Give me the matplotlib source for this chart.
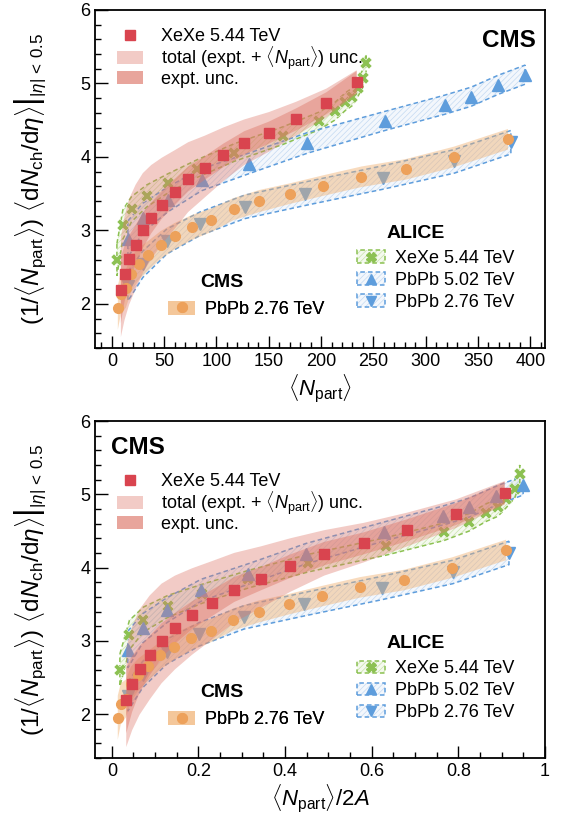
import numpy as np
import matplotlib
matplotlib.use('Agg')
import matplotlib.pyplot as plt
from matplotlib.patches import Patch
from matplotlib.lines import Line2D
from matplotlib.ticker import MultipleLocator, FuncFormatter

plt.rcParams['font.family'] = ['Liberation Sans', 'DejaVu Sans']
plt.rcParams['mathtext.fontset'] = 'custom'
plt.rcParams['mathtext.rm'] = 'Liberation Sans'
plt.rcParams['mathtext.it'] = 'Liberation Sans:italic'
plt.rcParams['mathtext.bf'] = 'Liberation Sans:bold'
plt.rcParams['hatch.linewidth'] = 0.5

# mass numbers for the Npart/2A panel
A_XE = 129
A_PB = 208

# CMS XeXe 5.44 TeV
cms_xe_npart = [8.6, 12.1, 16.5, 22.6, 29.6, 37.6, 47.8, 59.9, 72.9, 88.9, 106.4, 126.5, 150, 176, 205, 234]
cms_xe_y = [2.19, 2.41, 2.61, 2.80, 3.00, 3.17, 3.35, 3.52, 3.70, 3.85, 4.02, 4.19, 4.33, 4.51, 4.73, 5.02]
cms_xe_tot_up = [0.72, 0.78, 0.82, 0.82, 0.78, 0.72, 0.64, 0.57, 0.50, 0.44, 0.38, 0.32, 0.28, 0.24, 0.20, 0.16]
cms_xe_tot_dn = [0.64, 0.63, 0.62, 0.60, 0.58, 0.56, 0.54, 0.50, 0.45, 0.40, 0.35, 0.30, 0.26, 0.22, 0.19, 0.16]
cms_xe_exp = [0.45, 0.38, 0.32, 0.27, 0.24, 0.21, 0.19, 0.18, 0.17, 0.16, 0.16, 0.16, 0.15, 0.15, 0.15, 0.15]

# CMS PbPb 2.76 TeV
cms_pb_npart = [5.7, 8.6, 13.4, 18.5, 25.5, 35, 46.5, 59.9, 76.5, 95.2, 116.3, 141, 170, 202, 238.6, 280.7, 327, 378.6]
cms_pb_y = [1.95, 2.14, 2.21, 2.41, 2.54, 2.66, 2.80, 2.92, 3.04, 3.14, 3.29, 3.40, 3.50, 3.61, 3.73, 3.83, 4.00, 4.24]
cms_pb_err = [0.30, 0.28, 0.26, 0.24, 0.22, 0.20, 0.19, 0.18, 0.17, 0.16, 0.15, 0.15, 0.14, 0.14, 0.14, 0.14, 0.14, 0.14]

# ALICE XeXe 5.44 TeV
al_xe_npart = [4.8, 10.5, 18.8, 33.4, 53.5, 81.2, 117, 163.5, 198, 213, 223, 230, 235, 240, 243]
al_xe_y = [2.60, 3.08, 3.29, 3.47, 3.64, 3.84, 4.06, 4.29, 4.49, 4.62, 4.75, 4.82, 4.94, 5.07, 5.28]
al_xe_err = [0.22, 0.20, 0.17, 0.15, 0.13, 0.12, 0.12, 0.12, 0.12, 0.12, 0.12, 0.12, 0.12, 0.12, 0.12]

# ALICE PbPb 5.02 TeV
al_pb5_npart = [15.3, 29.6, 53.2, 85.7, 130.6, 186.7, 261, 318, 343.5, 369, 395]
al_pb5_y = [2.88, 3.17, 3.42, 3.69, 3.91, 4.19, 4.49, 4.71, 4.82, 4.98, 5.12]
al_pb5_err = [0.25, 0.20, 0.17, 0.15, 0.14, 0.14, 0.13, 0.13, 0.13, 0.13, 0.13]

# ALICE PbPb 2.76 TeV
al_pb2_npart = [15.3, 29.6, 52.6, 84.1, 126.8, 185, 259, 327.5, 381.4]
al_pb2_y = [2.24, 2.54, 2.85, 3.09, 3.32, 3.50, 3.72, 3.94, 4.20]
al_pb2_err = [0.20, 0.18, 0.17, 0.16, 0.16, 0.16, 0.16, 0.16, 0.16]

RED = '#d9444f'
RED_BAND = (0.87, 0.47, 0.41)
ORANGE = '#eda15b'
ORANGE_BAND = '#f0b070'
GREEN = '#8cc152'
GREEN_HATCH = '#c8e3aa'
BLUE = '#5e9ddc'
BLUE_HATCH = '#c4daf2'

YLABEL = r'$(1/\langle N_{\rm part}\rangle)\ \left.\langle{\rm d}N_{\rm ch}/{\rm d}\eta\rangle\right|_{|\eta|\,<\,0.5}$'


def band(ax, x, y, eu, ed=None, **kw):
    x = np.asarray(x); y = np.asarray(y); eu = np.asarray(eu)
    ed = eu if ed is None else np.asarray(ed)
    xs = np.concatenate([x, x[::-1]])
    ys = np.concatenate([y + eu, (y - ed)[::-1]])
    return ax.fill(xs, ys, **kw)


def alice_band(ax, x, y, e, col, hcol):
    band(ax, x, y, e, facecolor=hcol, alpha=0.2, lw=0, zorder=1)
    band(ax, x, y, e, facecolor='none', edgecolor=hcol, hatch='//////', lw=0, zorder=1)
    band(ax, x, y, e, facecolor='none', edgecolor=col, ls=(0, (3, 2)), lw=1.1, zorder=1.5)


def ahandle(col, hcol, m):
    return (Patch(facecolor=hcol, alpha=0.2, lw=0),
            Patch(facecolor='none', edgecolor=hcol, hatch='//////', lw=0),
            Patch(facecolor='none', edgecolor=col, ls=(0, (3, 2)), lw=1.1),
            Line2D([], [], marker=m, color=col, ms=7, ls='none'))


def panel(ax, sxe, spb, leg_top):
    x_cxe = np.array(cms_xe_npart) / sxe
    x_cpb = np.array(cms_pb_npart) / spb
    x_axe = np.array(al_xe_npart) / sxe
    x_ap5 = np.array(al_pb5_npart) / spb
    x_ap2 = np.array(al_pb2_npart) / spb

    alice_band(ax, x_axe, al_xe_y, al_xe_err, GREEN, GREEN_HATCH)
    alice_band(ax, x_ap5, al_pb5_y, al_pb5_err, BLUE, BLUE_HATCH)
    alice_band(ax, x_ap2, al_pb2_y, al_pb2_err, BLUE, BLUE_HATCH)
    ax.plot(x_axe, al_xe_y, 'X', color=GREEN, ms=8, mec='white', mew=0.3, ls='none', zorder=2)
    ax.plot(x_ap5, al_pb5_y, '^', color=BLUE, ms=8, ls='none', zorder=2)
    ax.plot(x_ap2, al_pb2_y, 'v', color=BLUE, ms=8, ls='none', zorder=2)

    band(ax, x_cpb, cms_pb_y, cms_pb_err, facecolor=ORANGE_BAND, alpha=0.45, lw=0, zorder=3)
    band(ax, x_cxe, cms_xe_y, cms_xe_tot_up, cms_xe_tot_dn, facecolor=RED_BAND, alpha=0.38,
         lw=0, zorder=3)
    band(ax, x_cxe, cms_xe_y, cms_xe_exp, facecolor=RED_BAND, alpha=0.45, lw=0, zorder=3.5)
    ax.plot(x_cpb, cms_pb_y, 'o', color=ORANGE, ms=7, ls='none', zorder=5)
    ax.plot(x_cxe, cms_xe_y, 's', color=RED, ms=7, ls='none', zorder=5)

    ax.set_ylim(1.4, 6.0)
    ax.yaxis.set_major_locator(MultipleLocator(1))
    ax.yaxis.set_minor_locator(MultipleLocator(0.2))
    ax.tick_params(which='both', direction='in', top=False, right=False, labelsize=13)
    ax.tick_params(which='major', length=9, width=1)
    ax.tick_params(which='minor', length=4.5, width=1)
    for s in ax.spines.values():
        s.set_linewidth(1.3)
    ax.set_ylabel(YLABEL, fontsize=17.5)
    ax.yaxis.set_label_coords(-0.105, 0.5)

    # CMS XeXe legend
    tot_h = Patch(facecolor=RED_BAND, alpha=0.38, lw=0)
    exp_h = Patch(facecolor=RED_BAND, alpha=0.45, lw=0)
    sq_h = Line2D([], [], marker='s', color=RED, ms=7, ls='none')
    leg1 = ax.legend([sq_h, tot_h, (tot_h, exp_h)],
                     ['XeXe 5.44 TeV', r'total (expt. + $\langle N_{\rm part}\rangle$) unc.', 'expt. unc.'],
                     frameon=False, fontsize=13, handlelength=1.45, handleheight=0.75,
                     labelspacing=-0.05, handletextpad=1.0, borderaxespad=0, borderpad=0,
                     loc='upper left', bbox_to_anchor=(0.049, leg_top))
    ax.add_artist(leg1)

    # ALICE legend
    ax.text(0.713, 0.339, 'ALICE', transform=ax.transAxes, fontsize=14, fontweight='bold',
            ha='center', va='center')
    leg2 = ax.legend([ahandle(GREEN, GREEN_HATCH, 'X'), ahandle(BLUE, BLUE_HATCH, '^'),
                      ahandle(BLUE, BLUE_HATCH, 'v')],
                     ['XeXe 5.44 TeV', 'PbPb 5.02 TeV', 'PbPb 2.76 TeV'],
                     frameon=False, fontsize=13, handlelength=1.55, handleheight=0.7,
                     labelspacing=0.28, handletextpad=0.55, borderaxespad=0, borderpad=0,
                     loc='upper left', bbox_to_anchor=(0.582, 0.29))
    ax.add_artist(leg2)

    # CMS PbPb legend
    ax.text(0.282, 0.193, 'CMS', transform=ax.transAxes, fontsize=14, fontweight='bold',
            ha='center', va='center')
    leg3 = ax.legend([(Patch(facecolor=ORANGE_BAND, alpha=0.45, lw=0),
                       Line2D([], [], marker='o', color=ORANGE, ms=7, ls='none'))],
                     ['PbPb 2.76 TeV'],
                     frameon=False, fontsize=13, handlelength=1.5, handleheight=0.85,
                     handletextpad=0.55, borderaxespad=0, borderpad=0,
                     loc='upper left', bbox_to_anchor=(0.162, 0.14))
    ax.add_artist(leg3)


fig = plt.figure(figsize=(5.63, 8.18), dpi=100)
ax1 = fig.add_axes([0.169, 0.5746, 0.799, 0.4132])
ax2 = fig.add_axes([0.169, 0.0733, 0.799, 0.412])

panel(ax1, 1.0, 1.0, 0.946)
ax1.set_xlim(-16, 414)
ax1.xaxis.set_major_locator(MultipleLocator(50))
ax1.xaxis.set_minor_locator(MultipleLocator(10))
ax1.set_xlabel(r'$\langle N_{\rm part}\rangle$', fontsize=16, labelpad=2)
ax1.text(0.92, 0.91, 'CMS', transform=ax1.transAxes, fontsize=17.5, fontweight='bold',
         ha='center', va='center')

panel(ax2, 2 * A_XE, 2 * A_PB, 0.845)
ax2.set_xlim(-0.0385, 1.0)
ax2.xaxis.set_major_locator(MultipleLocator(0.2))
ax2.xaxis.set_minor_locator(MultipleLocator(0.05))
ax2.xaxis.set_major_formatter(FuncFormatter(lambda v, p: '%g' % round(v, 2)))
ax2.set_xlabel(r'$\langle N_{\rm part}\rangle/2A$', fontsize=16, labelpad=2)
ax2.text(0.095, 0.92, 'CMS', transform=ax2.transAxes, fontsize=17.5, fontweight='bold',
         ha='center', va='center')

fig.savefig('out.png', dpi=100)
